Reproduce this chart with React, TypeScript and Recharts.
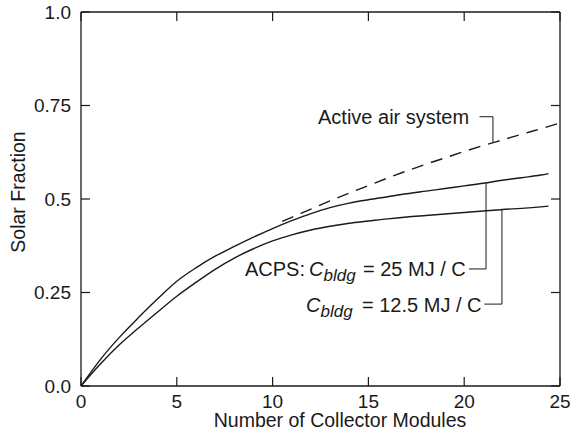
import { LineChart, Line, XAxis, YAxis, ReferenceLine } from 'recharts';

const modules = [0, 1, 2, 3, 4, 5, 6, 7, 8, 9, 10, 11, 12, 13, 14, 15, 16, 17, 18, 19, 20, 21, 22, 23, 24, 24.4];
const acps25 = [0, 0.07, 0.13, 0.183, 0.233, 0.28, 0.316, 0.347, 0.373, 0.398, 0.421, 0.442, 0.461, 0.477, 0.489, 0.498, 0.506, 0.514, 0.521, 0.528, 0.535, 0.542, 0.55, 0.557, 0.564, 0.568];
const acps125 = [0, 0.058, 0.11, 0.155, 0.198, 0.24, 0.277, 0.312, 0.342, 0.367, 0.388, 0.404, 0.417, 0.427, 0.435, 0.441, 0.447, 0.452, 0.456, 0.46, 0.464, 0.468, 0.472, 0.475, 0.479, 0.481];

const airModules = [10.5, 11, 12, 13, 14, 15, 16, 17, 18, 19, 20, 21, 22, 23, 24, 25];
const airSystem = [0.44, 0.451, 0.473, 0.495, 0.516, 0.536, 0.556, 0.575, 0.593, 0.61, 0.627, 0.643, 0.658, 0.673, 0.688, 0.703];

const xTicks = [0, 5, 10, 15, 20, 25];
const yTicks = [0, 0.25, 0.5, 0.75, 1];
const yTickLabels = ['0.0', '0.25', '0.5', '0.75', '1.0'];

// leader lines from labels to curves, in data units
const leaders = [
  [{ x: 20.8, y: 0.72 }, { x: 21.5, y: 0.72 }],
  [{ x: 21.5, y: 0.72 }, { x: 21.5, y: 0.651 }],
  [{ x: 20.25, y: 0.313 }, { x: 21.14, y: 0.313 }],
  [{ x: 21.14, y: 0.313 }, { x: 21.14, y: 0.543 }],
  [{ x: 21.05, y: 0.219 }, { x: 21.97, y: 0.219 }],
  [{ x: 21.97, y: 0.219 }, { x: 21.97, y: 0.472 }],
];

const font = '"Liberation Sans", Arial, Helvetica, sans-serif';
const ink = '#1a1a1a';

// inner tick length, in data units (about 9px on each axis)
const TICK_X = 0.024;
const TICK_Y = 0.47;

const upper = modules.map((x, i) => ({ x, y: acps25[i] }));
const lower = modules.map((x, i) => ({ x, y: acps125[i] }));
const air = airModules.map((x, i) => ({ x, y: airSystem[i] }));

// tick marks on all four sides, pointing inward
const tickSegments = [
  ...xTicks.map((x) => [{ x, y: 0 }, { x, y: TICK_X }]),
  ...xTicks.map((x) => [{ x, y: 1 }, { x, y: 1 - TICK_X }]),
  ...yTicks.map((y) => [{ x: 0, y }, { x: TICK_Y, y }]),
  ...yTicks.map((y) => [{ x: 25, y }, { x: 25 - TICK_Y, y }]),
];

const tickStyle = { fontSize: 19, fill: ink, fontFamily: font };

export default function App() {
  return (
    <div style={{ position: 'absolute', left: 0, top: 0, width: 573, height: 433 }}>
      <LineChart width={573} height={433} margin={{ top: 12, right: 13, bottom: 0, left: 0 }}>
        <XAxis
          dataKey="x"
          type="number"
          domain={[0, 25]}
          ticks={xTicks}
          interval={0}
          tickLine={false}
          tickSize={0}
          tickMargin={9}
          height={47}
          stroke={ink}
          strokeWidth={1.3}
          tick={tickStyle}
        />
        <YAxis
          type="number"
          domain={[0, 1]}
          ticks={yTicks}
          interval={0}
          tickFormatter={(v) => yTickLabels[yTicks.indexOf(v)]}
          tickLine={false}
          tickSize={0}
          tickMargin={10}
          width={81}
          stroke={ink}
          strokeWidth={1.3}
          tick={tickStyle}
        />
        {/* top and right sides of the frame */}
        <ReferenceLine y={1} stroke={ink} strokeWidth={1.3} ifOverflow="visible" />
        <ReferenceLine x={25} stroke={ink} strokeWidth={1.3} ifOverflow="visible" />
        {tickSegments.map((seg, i) => (
          <ReferenceLine key={'t' + i} segment={seg} stroke={ink} strokeWidth={1.2} ifOverflow="visible" />
        ))}
        <Line data={upper} dataKey="y" type="monotone" stroke={ink} strokeWidth={1.4} dot={false} isAnimationActive={false} />
        <Line data={lower} dataKey="y" type="monotone" stroke={ink} strokeWidth={1.4} dot={false} isAnimationActive={false} />
        <Line
          data={air}
          dataKey="y"
          type="monotone"
          stroke={ink}
          strokeWidth={1.4}
          strokeDasharray="12 8"
          dot={false}
          isAnimationActive={false}
        />
        {leaders.map((seg, i) => (
          <ReferenceLine key={'l' + i} segment={seg} stroke={ink} strokeWidth={1} ifOverflow="visible" />
        ))}
      </LineChart>
      <svg
        width={573}
        height={433}
        style={{ position: 'absolute', left: 0, top: 0, pointerEvents: 'none' }}
        fontFamily={font}
        fontSize={20}
        fill={ink}
      >
        <text x={340} y={427} textAnchor="middle" fontSize={19.5}>Number of Collector Modules</text>
        <text x={25} y={192} textAnchor="middle" fontSize={19.5} transform="rotate(-90 25 192)">Solar Fraction</text>
        <text x={318} y={124}>Active air system</text>
        <text x={245} y={276}>ACPS:</text>
        <text x={309} y={276}>
          <tspan fontStyle="italic">C</tspan>
          <tspan fontStyle="italic" fontSize={17} dy={5}>bldg</tspan>
        </text>
        <text x={363} y={276}>= 25 MJ / C</text>
        <text x={306} y={312}>
          <tspan fontStyle="italic">C</tspan>
          <tspan fontStyle="italic" fontSize={17} dy={5}>bldg</tspan>
        </text>
        <text x={362} y={312}>= 12.5 MJ / C</text>
      </svg>
    </div>
  );
}
